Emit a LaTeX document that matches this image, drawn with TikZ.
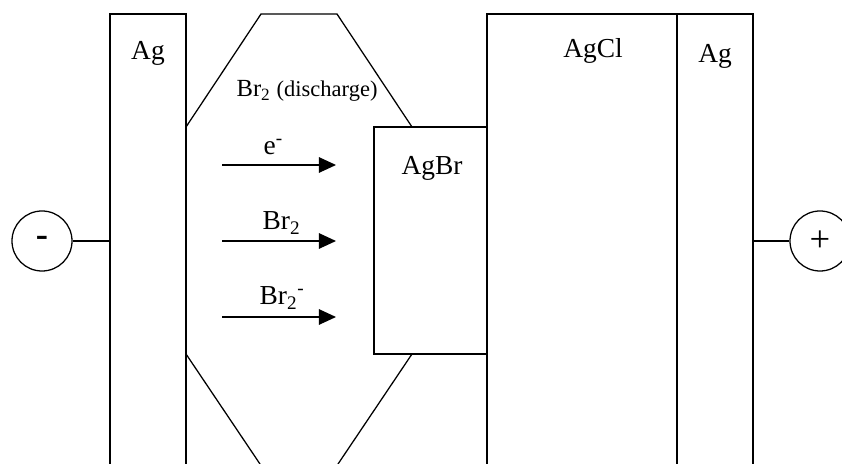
\documentclass[tikz,border=0pt]{standalone}
\usepackage{fontspec}
\setmainfont{Liberation Serif}
\usetikzlibrary{arrows.meta,fit}

\begin{document}
\begin{tikzpicture}[x=0.025cm,y=-0.025cm,line width=0.9pt,
  layer/.style={draw,inner sep=0pt},
  lbl/.style={inner sep=0pt,anchor=base,font=\fontsize{19.5}{22}\selectfont},
  flowlbl/.style={lbl,anchor=base west},
  pole/.style={circle,draw,inner sep=0pt,minimum size=1.5cm,font=\fontsize{26}{28}\selectfont},
  flow/.style={-{Triangle[length=4.3mm,width=3.9mm]}}]
  \useasboundingbox (0,0) rectangle (842,464);
  \clip (0,0) rectangle (842,464);
  % layers of the cell
  \node[layer,fit={(110,14) (186,480)}] (agL) {};
  \node[layer,fit={(374,127) (487,354)}] (agbr) {};
  \node[layer,fit={(487,14) (677,480)}] (agcl) {};
  \node[layer,fit={(677,14) (753,480)}] (agR) {};
  \node[lbl] (tagL) at (148,60) {Ag};
  \node[lbl] (tagbr) at (432,175) {AgBr};
  \node[lbl] (tagcl) at (593,58) {AgCl};
  \node[lbl] (tagR) at (715,63) {Ag};
  % bromine space
  \draw (186,127) -- (261,14) -- (337,14) -- (412,127);
  \draw (186,354) -- (262,467);
  \draw (412,354) -- (336,467);
  \node[lbl,anchor=base west,font=\fontsize{16}{18}\selectfont] (tbr) at (236,97) {\fontsize{17.5}{18}\selectfont Br\textsubscript{2} \fontsize{16}{18}\selectfont(discharge)};
  % terminals
  \node[pole] (neg) at (42,241) {\textbf{-}};
  \node[pole] (pos) at (820,241) {+};
  \draw (neg) -- (neg -| agL.west);
  \draw (pos) -- (pos -| agR.east);
  % carriers
  \coordinate (e0) at (222,165);  \coordinate (e1) at (336,165);
  \coordinate (b0) at (222,241);  \coordinate (b1) at (336,241);
  \coordinate (m0) at (222,317);  \coordinate (m1) at (336,317);
  \draw[flow] (e0) -- (e1);
  \draw[flow] (b0) -- (b1);
  \draw[flow] (m0) -- (m1);
  \node[flowlbl] (te) at (263,155) {e\textsuperscript{-}};
  \node[flowlbl] (tb) at (262,230) {Br\textsubscript{2}};
  \node[flowlbl] (tm) at (259,305) {Br\textsubscript{2}\textsuperscript{-}};
\end{tikzpicture}
\end{document}
